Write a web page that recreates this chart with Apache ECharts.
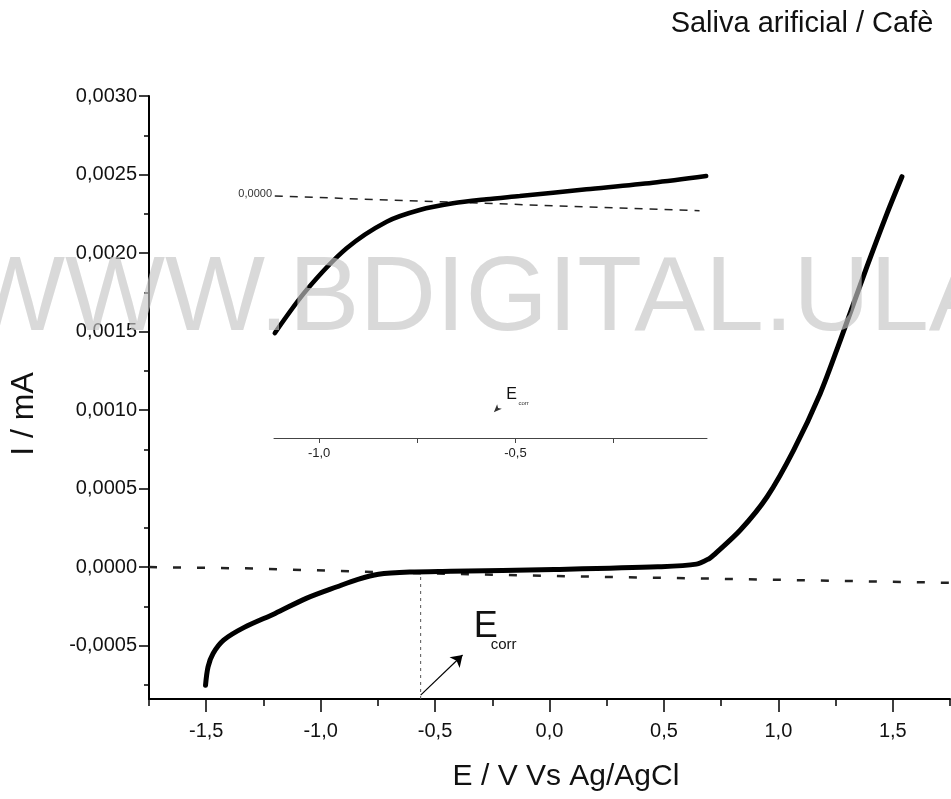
<!DOCTYPE html>
<html>
<head>
<meta charset="utf-8">
<script src="https://cdn.jsdelivr.net/npm/echarts@6/dist/echarts.min.js"></script>
<style>
  html, body { margin: 0; padding: 0; background: #fff; }
  #chart { width: 951px; height: 799px; }
</style>
</head>
<body>
<div id="chart"></div>
<script>
// Polarization curve in artificial saliva with coffee: potential (V vs Ag/AgCl) vs current (mA)
const potential = [-1.503, -1.492, -1.470, -1.424, -1.334, -1.199, -1.063, -0.928, -0.837, -0.747,
                   -0.611, -0.431, 0.021, 0.473, 0.642, 0.699, 0.717, 0.834, 0.951, 1.067,
                   1.183, 1.271, 1.387, 1.475, 1.540];
const current = [-0.000752, -0.000635, -0.000550, -0.000465, -0.000384, -0.000295, -0.000199, -0.000125, -0.000078, -0.000046,
                 -0.000032, -0.000027, -0.000015, 0.000002, 0.000019, 0.000055, 0.000076, 0.000236, 0.000448, 0.000745,
                 0.001106, 0.001446, 0.001913, 0.002253, 0.002486];

// reference (zero-current) dashed trace
const baseE = [-1.75, -1.33, -0.54, 0.02, 0.64, 1.75];
const baseI = [0, -0.000008, -0.000040, -0.000057, -0.000072, -0.000100];

// corrosion potential
const ecorr = -0.563;
const ecorrPlateauI = -0.00003;

// magnified view around Ecorr
const insetE = [-1.113, -1.032, -0.930, -0.828, -0.744, -0.659, -0.574, -0.489, -0.319, -0.150, -0.014];
const insetI = [-0.0001454, -0.0001004, -0.0000568, -0.0000290, -0.0000168, -0.0000098, -0.0000056, -0.0000022, 0.0000048, 0.0000117, 0.0000187];
const insetBaseE = [-1.113, -0.031];
const insetBaseI = [-0.0000022, -0.0000176];

// tick positions
const xMajorTicks = [-1.5, -1.0, -0.5, 0, 0.5, 1.0, 1.5];
const xMinorTicks = [-1.75, -1.25, -0.75, -0.25, 0.25, 0.75, 1.25, 1.75];
const yMajorTicks = [-0.0005, 0, 0.0005, 0.001, 0.0015, 0.002, 0.0025, 0.003];
const yMinorTicks = [-0.00075, -0.00025, 0.00025, 0.00075, 0.00125, 0.00175, 0.00225, 0.00275];
const insetXTicks = [-1.0, -0.75, -0.5, -0.25];
const insetXLabels = [-1.0, -0.5];

const FONT = '"Liberation Sans", Arial, Helvetica, sans-serif';
const NARROW = '"Liberation Sans Narrow", "Liberation Sans", Arial, sans-serif';

const zip = (a, b) => a.map((v, i) => [v, b[i]]);
const comma = (v, d) => v.toFixed(d).replace('.', ',');

const chart = echarts.init(document.getElementById('chart'), null, { renderer: 'canvas' });

const option = {
  animation: false,
  backgroundColor: '#fff',
  grid: [
    { left: 149, right: 1, top: 96, bottom: 100 },
    { left: 274, right: 244, top: 170, bottom: 361 }
  ],
  xAxis: [
    {
      gridIndex: 0, type: 'value', min: -1.75, max: 1.75, position: 'bottom',
      axisLine: { onZero: false, lineStyle: { color: '#000', width: 2 } },
      axisTick: { customValues: xMajorTicks, length: 13, lineStyle: { color: '#000', width: 1.5 } },
      axisLabel: { customValues: xMajorTicks, formatter: v => comma(v, 1), margin: 22,
                   fontSize: 20, color: '#111', fontFamily: FONT },
      splitLine: { show: false }
    },
    {
      gridIndex: 0, type: 'value', min: -1.75, max: 1.75, position: 'bottom',
      axisLine: { show: false, onZero: false },
      axisTick: { customValues: xMinorTicks, length: 7, lineStyle: { color: '#000', width: 1.5 } },
      axisLabel: { show: false },
      splitLine: { show: false }
    },
    {
      gridIndex: 1, type: 'value', min: -1.115, max: -0.012, position: 'bottom',
      axisLine: { onZero: false, lineStyle: { color: '#444', width: 1 } },
      axisTick: { customValues: insetXTicks, length: 5, lineStyle: { color: '#444', width: 1 } },
      axisLabel: { customValues: insetXLabels, formatter: v => comma(v, 1), margin: 9,
                   fontSize: 13, color: '#222', fontFamily: FONT },
      splitLine: { show: false }
    }
  ],
  yAxis: [
    {
      gridIndex: 0, type: 'value', min: -0.00084, max: 0.003, position: 'left',
      axisLine: { onZero: false, lineStyle: { color: '#000', width: 2 } },
      axisTick: { customValues: yMajorTicks, length: 10, lineStyle: { color: '#000', width: 1.5 } },
      axisLabel: { customValues: yMajorTicks, formatter: v => comma(v, 4), margin: 12,
                   fontSize: 20, color: '#111', fontFamily: FONT },
      splitLine: { show: false }
    },
    {
      gridIndex: 0, type: 'value', min: -0.00084, max: 0.003, position: 'left',
      axisLine: { show: false, onZero: false },
      axisTick: { customValues: yMinorTicks, length: 5, lineStyle: { color: '#000', width: 1.5 } },
      axisLabel: { show: false },
      splitLine: { show: false }
    },
    {
      gridIndex: 1, type: 'value', min: -0.000255, max: 0.000025, position: 'left',
      axisLine: { show: false, onZero: false },
      axisTick: { show: false },
      axisLabel: { customValues: [0], formatter: v => comma(v, 4), margin: 2,
                   fontSize: 11, color: '#333', fontFamily: FONT },
      splitLine: { show: false }
    }
  ],
  series: [
    {
      name: 'base', type: 'line', xAxisIndex: 0, yAxisIndex: 0,
      data: zip(baseE, baseI), showSymbol: false, symbol: 'none', silent: true,
      lineStyle: { color: '#222', width: 2.5, type: [8, 16] }, z: 2
    },
    {
      name: 'ecorr-line', type: 'line', xAxisIndex: 0, yAxisIndex: 0,
      data: [[ecorr, -0.00084], [ecorr, ecorrPlateauI]], symbol: 'none', silent: true,
      lineStyle: { color: '#555', width: 1, type: [3, 4] }, z: 2
    },
    {
      name: 'I', type: 'line', xAxisIndex: 0, yAxisIndex: 0,
      data: zip(potential, current), smooth: 0.3, symbol: 'none', silent: true,
      lineStyle: { color: '#000', width: 5, cap: 'round', join: 'round' }, z: 3
    },
    {
      name: 'arrow', type: 'lines', coordinateSystem: 'cartesian2d', xAxisIndex: 0, yAxisIndex: 0,
      data: [{ coords: [[ecorr, -0.000815], [-0.38, -0.00056]] }],
      symbol: ['none', 'arrow'], symbolSize: 11, silent: true,
      lineStyle: { color: '#000', width: 1.2, opacity: 1 }, z: 3
    },
    {
      name: 'inset-base', type: 'line', xAxisIndex: 2, yAxisIndex: 2,
      data: zip(insetBaseE, insetBaseI), symbol: 'none', silent: true,
      lineStyle: { color: '#222', width: 1.5, type: [8, 7] }, z: 2
    },
    {
      name: 'inset-I', type: 'line', xAxisIndex: 2, yAxisIndex: 2,
      data: zip(insetE, insetI), smooth: 0.3, symbol: 'none', silent: true,
      lineStyle: { color: '#000', width: 4.5, cap: 'round' }, z: 3
    },
    {
      name: 'inset-arrow', type: 'scatter', xAxisIndex: 2, yAxisIndex: 2,
      data: [[-0.555, -0.000228]], symbol: 'arrow', symbolSize: [5, 8], symbolRotate: 135,
      itemStyle: { color: '#000' }, silent: true, z: 3
    }
  ]
};

chart.setOption(option);

// annotation positions follow the axes
const mainLabel = chart.convertToPixel({ xAxisIndex: 0, yAxisIndex: 0 }, [-0.279, -0.000382]);
const insetLabel = chart.convertToPixel({ xAxisIndex: 2, yAxisIndex: 2 }, [-0.51, -0.00021]);

chart.setOption({
  graphic: [
    { type: 'text', x: 802, y: 24, z: 50,
      style: { text: 'Saliva arificial / Cafè', font: '29px ' + FONT, fill: '#111',
               textAlign: 'center', textVerticalAlign: 'middle' } },
    { type: 'text', x: 566, y: 777, z: 50,
      style: { text: 'E / V Vs Ag/AgCl', font: '30px ' + FONT, fill: '#111',
               textAlign: 'center', textVerticalAlign: 'middle' } },
    { type: 'text', x: 24, y: 414, rotation: Math.PI / 2, z: 50,
      style: { text: 'I / mA', font: '32px ' + FONT, fill: '#111',
               textAlign: 'center', textVerticalAlign: 'middle' } },
    { type: 'text', x: mainLabel[0], y: mainLabel[1], z: 50,
      style: { text: 'E', font: '36px ' + NARROW, fill: '#111',
               textAlign: 'center', textVerticalAlign: 'middle' } },
    { type: 'text', x: mainLabel[0] + 5, y: mainLabel[1] + 18, z: 50,
      style: { text: 'corr', font: '15px ' + NARROW, fill: '#111',
               textAlign: 'left', textVerticalAlign: 'middle' } },
    { type: 'text', x: insetLabel[0], y: insetLabel[1], z: 50,
      style: { text: 'E', font: '16px ' + FONT, fill: '#111',
               textAlign: 'center', textVerticalAlign: 'middle' } },
    { type: 'text', x: insetLabel[0] + 7, y: insetLabel[1] + 8, z: 50,
      style: { text: 'corr', font: '6px ' + NARROW, fill: '#333',
               textAlign: 'left', textVerticalAlign: 'middle' } },
    { type: 'text', x: -35, y: 301, z: 100,
      style: { text: 'WWW.BDIGITAL.ULA', font: '106px ' + FONT, fill: 'rgba(197,197,197,0.65)',
               textAlign: 'left', textVerticalAlign: 'middle' } }
  ]
});
</script>
</body>
</html>
